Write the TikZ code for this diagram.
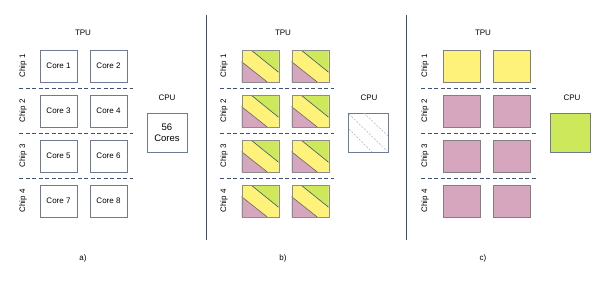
\documentclass[tikz,border=0pt]{standalone}
\usepackage{fontspec}
\setmainfont{Liberation Sans}
\definecolor{coreline}{HTML}{6E7A96}
\definecolor{sepline}{HTML}{3F4F75}
\definecolor{yelc}{HTML}{FFF27A}
\definecolor{grnc}{HTML}{CDE85A}
\definecolor{pnkc}{HTML}{D5A6BD}
\tikzset{
  core/.style={draw=coreline,line width=.9pt,minimum width=37pt,minimum height=32pt,inner sep=0pt},
  cpubox/.style={draw=coreline,line width=.9pt,minimum width=40pt,minimum height=39pt,inner sep=0pt,align=center},
  chiplbl/.style={rotate=90,inner sep=0pt},
  sep/.style={draw=sepline,dashed,dash pattern=on 4pt off 2.5pt,line width=.7pt},
}
\begin{document}
\begin{tikzpicture}[x=1pt,y=-1pt,font=\fontsize{8}{10}\selectfont]
  \useasboundingbox (0,0) rectangle (598,290);
  \begin{scope}[xshift=0pt]
    \node (tpua) at (83,33) {TPU};
    \foreach \r in {1,...,4} {
      \node[chiplbl] (chipa\r) at (23,21+45*\r) {Chip \r};
    }
    \node[core] (corea1) at (58.5,66) {Core 1};
    \node[core] (corea2) at (108.5,66) {Core 2};
    \node[core] (corea3) at (58.5,111) {Core 3};
    \node[core] (corea4) at (108.5,111) {Core 4};
    \node[core] (corea5) at (58.5,156) {Core 5};
    \node[core] (corea6) at (108.5,156) {Core 6};
    \node[core] (corea7) at (58.5,201) {Core 7};
    \node[core] (corea8) at (108.5,201) {Core 8};
    \foreach \s in {1,2,3} {
      \coordinate (sla\s) at (19,43.5+45*\s);
      \coordinate (sra\s) at (133,43.5+45*\s);
      \draw[sep] (sla\s)--(sra\s);
    }
    \node (cpula) at (167,98) {CPU};
    \node[cpubox,font=\fontsize{9.5}{11.5}\selectfont] (cpua) at (167,132.5) {56\\Cores};
    \node (capa) at (83,258) {a)};
  \end{scope}
  \begin{scope}[xshift=201pt]
    \coordinate (vtb) at (5,15);
    \coordinate (vbb) at (5,240);
    \draw[sepline,line width=.8pt] (vtb)--(vbb);
    \node (tpub) at (82,33) {TPU};
    \foreach \r in {1,...,4} {
      \node[chiplbl] (chipb\r) at (23,21+45*\r) {Chip \r};
      \foreach \c/\xc in {l/59.5,r/109.5} {
        \node[core,fill=yelc] (coreb\r\c) at (\xc,21+45*\r) {};
        \begin{scope}[shift={(coreb\r\c.south west)},x=37pt,y=32pt]
          \fill[grnc] (.27,1)--(1,1)--(1,.32)--cycle;
          \fill[pnkc] (0,.65)--(0,0)--(.71,0)--cycle;
          \draw[sepline,line width=.6pt] (.27,1)--(1,.32);
          \draw[black!60,line width=.6pt] (0,.65)--(.71,0);
        \end{scope}
        \node[core,draw=black!45] at (coreb\r\c) {};
      }
    }
    \foreach \s in {1,2,3} {
      \coordinate (slb\s) at (19,43.5+45*\s);
      \coordinate (srb\s) at (133,43.5+45*\s);
      \draw[sep] (slb\s)--(srb\s);
    }
    \node (cpulb) at (168,98) {CPU};
    \node[cpubox] (cpub) at (167,132.5) {};
    \begin{scope}[black!30,dashed,dash pattern=on 2pt off 1.5pt,line width=.5pt]
      \draw (148,114)--(186,151);
      \draw (163,113)--(187,136);
      \draw (148,129)--(171,152);
    \end{scope}
    \node (capb) at (82,258) {b)};
  \end{scope}
  \begin{scope}[xshift=402pt]
    \coordinate (vtc) at (4,15);
    \coordinate (vbc) at (4,240);
    \draw[sepline,line width=.8pt] (vtc)--(vbc);
    \node (tpuc) at (81,33) {TPU};
    \foreach \r in {1,...,4} {
      \node[chiplbl] (chipc\r) at (23,21+45*\r) {Chip \r};
    }
    \node[core,draw=black!50,fill=yelc] (corec1l) at (59.5,66) {};
    \node[core,draw=black!50,fill=yelc] (corec1r) at (109.5,66) {};
    \foreach \r in {2,3,4} {
      \node[core,draw=black!50,fill=pnkc] (corec\r l) at (59.5,21+45*\r) {};
      \node[core,draw=black!50,fill=pnkc] (corec\r r) at (109.5,21+45*\r) {};
    }
    \foreach \s in {1,2,3} {
      \coordinate (slc\s) at (19,43.5+45*\s);
      \coordinate (src\s) at (134,43.5+45*\s);
      \draw[sep] (slc\s)--(src\s);
    }
    \node (cpulc) at (170,98) {CPU};
    \node[cpubox,fill=grnc] (cpuc) at (168.5,133) {};
    \node (capc) at (81,258) {c)};
  \end{scope}
\end{tikzpicture}
\end{document}
